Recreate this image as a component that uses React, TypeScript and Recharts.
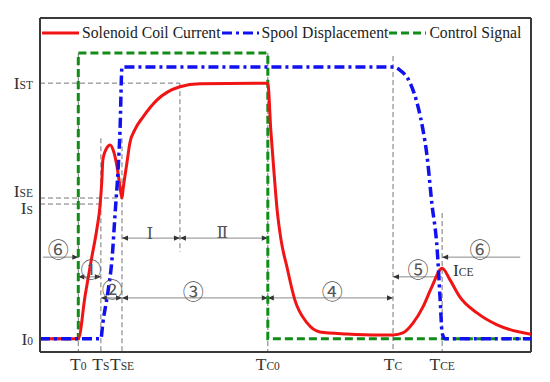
import { LineChart, Line, XAxis, YAxis, Legend, ReferenceLine, ReferenceDot } from "recharts";

// normalised time (0-100) and amplitude (0-100)
const controlSignal = [
  [0, 4], [7.8, 4], [7.8, 89.5], [46.4, 89.5], [46.4, 4], [100, 4],
];
const spoolDisp = [
  [0, 4], [12.4, 4], [12.8, 8.7], [13.8, 17.7], [14.7, 28.4], [15.3, 41.6],
  [15.9, 54.5], [16.3, 66.5], [16.7, 85.3], [71.9, 85.3], [73.3, 84.4],
  [75.4, 80.5], [77.0, 73.4], [78.0, 66.5], [78.8, 59.0], [79.8, 44.6],
  [80.9, 30.5], [81.5, 15.6], [81.9, 5.7], [82.5, 4], [100, 4],
];
const coilCurrent = [
  [0, 4], [7.8, 4], [9.2, 17.0], [10.5, 28.0], [11.6, 37.0], [12.2, 43.4],
  [12.6, 51.5], [12.8, 57.5], [13.6, 61.1], [14.3, 62.0], [14.9, 60.5],
  [15.7, 55.4], [16.3, 49.4], [16.7, 46.1], [16.9, 48.5], [17.7, 56.6],
  [18.3, 62.6], [19.3, 66.5], [21.0, 70.4], [23.8, 75.4], [28.5, 79.4],
  [32.6, 80.3], [46.4, 80.5], [47.0, 66.5], [47.7, 53.0], [48.3, 42.5],
  [49.1, 33.5], [50.3, 25.4], [51.9, 15.6], [54.4, 8.7], [57.0, 6.0],
  [62.5, 5.4], [69.2, 5.1], [71.9, 5.1], [73.9, 5.7], [76.0, 8.7],
  [78.0, 13.5], [79.8, 19.5], [81.9, 25.1], [83.5, 21.6], [85.5, 16.5],
  [89.0, 11.7], [93.1, 8.1], [100, 5.3],
];

const timeTicks = [7.8, 12.4, 16.7, 46.4, 71.9, 81.9];
const timeTickNames = [["T", "0"], ["T", "S"], ["T", "SE"], ["T", "C0"], ["T", "C"], ["T", "CE"]];
const levelTicks = [4, 44.3, 46.1, 80.5];
const levelTickNames = [["I", "0"], ["I", "S"], ["I", "SE"], ["I", "ST"]];

// dashed guide segments: [t1, v1, t2, v2]
const guides = [
  [0, 80.5, 28.5, 80.5], [28.5, 80.5, 28.5, 30],
  [0, 46.1, 16.7, 46.1], [0, 44.3, 12.4, 44.3],
  [7.8, 89.5, 7.8, 0], [12.4, 64, 12.4, 0], [16.7, 64, 16.7, 0],
  [46.4, 89.5, 46.4, 0], [71.9, 88.6, 71.9, 0], [81.9, 41.6, 81.9, 0],
];

// interval arrows: [fromT, toT, v, both ends?]
const spans: [number, number, number, boolean][] = [
  [0.6, 7.8, 28.4, false], [7.8, 12.4, 22.5, true], [12.4, 16.7, 16.2, true],
  [16.7, 46.4, 16.2, true], [46.4, 71.9, 16.2, true], [16.7, 28.5, 34.1, true],
  [28.5, 46.4, 34.1, true], [81.9, 71.9, 22.5, false], [97.8, 81.9, 28.4, false],
];

const circledLabels = [
  [3.7, 31.1, "⑥"], [10.4, 25.1, "①"], [14.7, 19.2, "②"], [31.2, 18.6, "③"],
  [59.5, 18.6, "④"], [77.0, 25.1, "⑤"], [89.6, 31.1, "⑥"],
];
const phaseLabels = [[22.4, 35.6, "Ⅰ"], [37.1, 35.9, "Ⅱ"]];

const SERIES = [
  { key: "current", name: "Solenoid Coil Current", color: "#f01414", dash: undefined },
  { key: "spool", name: "Spool Displacement", color: "#1010f0", dash: "10 4 3 4" },
  { key: "control", name: "Control Signal", color: "#118c18", dash: "8 4" },
];

const SERIF = "'Liberation Serif', 'DejaVu Serif', serif";
const toPts = (arr: number[][]) => arr.map(([t, v]) => ({ t, v }));

function TimeTick({ x, y, payload }: any) {
  const i = timeTicks.indexOf(payload.value);
  const [main, sub] = timeTickNames[i] ?? ["", ""];
  return (
    <text x={x} y={y + 18} textAnchor="middle" fontFamily={SERIF} fill="#333">
      <tspan fontSize={17.5}>{main}</tspan>
      <tspan fontSize={11.5}>{sub}</tspan>
    </text>
  );
}

function LevelTick({ x, y, payload }: any) {
  const i = levelTicks.indexOf(payload.value);
  const [main, sub] = levelTickNames[i] ?? ["", ""];
  // I_SE and I_S sit close together, push them apart a little
  const shift = sub === "SE" ? -7 : sub === "S" ? 4 : 0;
  return (
    <text x={x - 7} y={y + 6 + shift} textAnchor="end" fontFamily={SERIF} fill="#333">
      <tspan fontSize={17.5}>{main}</tspan>
      <tspan fontSize={11.5}>{sub}</tspan>
    </text>
  );
}

function head(x: number, y: number, dir: number) {
  // dir: +1 tip points right, -1 points left
  const len = 6, half = 2.6;
  return <polygon points={`${x},${y} ${x - dir * len},${y - half} ${x - dir * len},${y + half}`} fill="#333" />;
}

const arrowShape = (both: boolean) => (p: any) => {
  const { x1, y1, x2, y2 } = p;
  const dir = x2 > x1 ? 1 : -1;
  return (
    <g>
      <line x1={x1} y1={y1} x2={x2} y2={y2} stroke="#8a8a8a" strokeWidth={1} />
      {head(x2, y2, dir)}
      {both && head(x1, y1, -dir)}
    </g>
  );
};

function LegendContent() {
  return (
    <div style={{ display: "flex", alignItems: "center", fontFamily: SERIF, fontSize: 15.7, color: "#222", whiteSpace: "nowrap", lineHeight: "20px" }}>
      {SERIES.map((s, i) => (
        <span key={s.key} style={{ display: "flex", alignItems: "center", marginLeft: i ? 1 : 0 }}>
          <svg width={37} height={10}>
            <line x1={0} y1={5} x2={37} y2={5} stroke={s.color} strokeWidth={3.2} strokeDasharray={s.dash} />
          </svg>
          <span style={{ marginLeft: 3 }}>{s.name}</span>
        </span>
      ))}
    </div>
  );
}

export default function App() {
  return (
    <div style={{ position: "absolute", left: 0, top: 0, width: 550, height: 382, background: "#fff" }}>
      <LineChart width={550} height={382} margin={{ top: 18, right: 19, bottom: 0, left: 0 }}>
        <XAxis
          type="number"
          dataKey="t"
          domain={[0, 100]}
          ticks={timeTicks}
          interval={0}
          tick={<TimeTick />}
          tickLine={false}
          tickSize={0}
          tickMargin={0}
          height={30}
          axisLine={{ stroke: "#3a3a3a", strokeWidth: 2 }}
        />
        <YAxis
          type="number"
          dataKey="v"
          domain={[0, 100]}
          ticks={levelTicks}
          interval={0}
          tick={<LevelTick />}
          tickLine={false}
          tickSize={0}
          tickMargin={0}
          width={40}
          axisLine={{ stroke: "#3a3a3a", strokeWidth: 2 }}
        />
        <ReferenceLine y={100} stroke="#3a3a3a" strokeWidth={2} />
        <ReferenceLine x={100} stroke="#3a3a3a" strokeWidth={2} />
        {guides.map(([a, b, c, d], i) => (
          <ReferenceLine
            key={`g${i}`}
            segment={[{ x: a, y: b }, { x: c, y: d }]}
            stroke="#777"
            strokeWidth={1}
            strokeDasharray="5 3"
          />
        ))}
        {spans.map(([a, b, v, both], i) => (
          <ReferenceLine
            key={`s${i}`}
            segment={[{ x: a, y: v }, { x: b, y: v }]}
            shape={arrowShape(both)}
          />
        ))}
        <Line data={toPts(controlSignal)} dataKey="v" type="linear" stroke="#118c18" strokeWidth={3} strokeDasharray="8 4" dot={false} isAnimationActive={false} name="Control Signal" />
        <Line data={toPts(coilCurrent)} dataKey="v" type="monotone" stroke="#f01414" strokeWidth={3} dot={false} isAnimationActive={false} name="Solenoid Coil Current" />
        <Line data={toPts(spoolDisp)} dataKey="v" type="monotone" stroke="#1010f0" strokeWidth={3.5} strokeDasharray="10 4 3 4" dot={false} isAnimationActive={false} name="Spool Displacement" />
        {circledLabels.map(([t, v, s], i) => (
          <ReferenceDot
            key={`c${i}`}
            x={t as number}
            y={v as number}
            r={0}
            shape={(p: any) => (
              <text x={p.cx} y={p.cy} textAnchor="middle" dominantBaseline="central" fontSize={21} fill="#555" fontFamily="'Noto Sans CJK JP', 'DejaVu Sans', sans-serif">
                {s}
              </text>
            )}
          />
        ))}
        {phaseLabels.map(([t, v, s], i) => (
          <ReferenceDot
            key={`p${i}`}
            x={t as number}
            y={v as number}
            r={0}
            shape={(p: any) => (
              <text x={p.cx} y={p.cy} textAnchor="middle" dominantBaseline="central" fontSize={17} fill="#555" fontFamily="'DejaVu Serif', serif">
                {s}
              </text>
            )}
          />
        ))}
        <ReferenceDot
          x={84.1}
          y={24.6}
          r={0}
          shape={(p: any) => (
            <text x={p.cx} y={p.cy + 6} fontFamily={SERIF} fill="#333">
              <tspan fontSize={17.5}>I</tspan>
              <tspan fontSize={11.5}>CE</tspan>
            </text>
          )}
        />
        <Legend
          verticalAlign="middle"
          layout="horizontal"
          align="center"
          wrapperStyle={{ top: 23, left: 42, width: "auto" }}
          content={<LegendContent />}
        />
      </LineChart>
    </div>
  );
}
